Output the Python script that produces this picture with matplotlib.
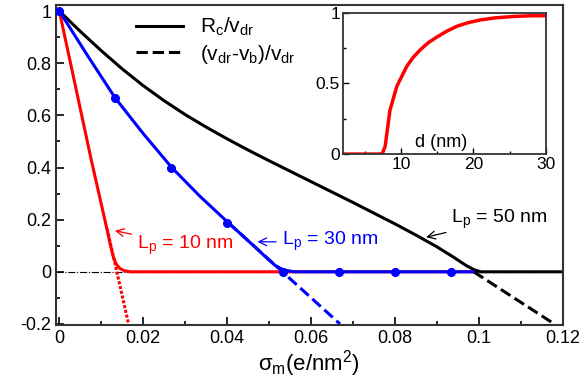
import numpy as np
import matplotlib
matplotlib.use('Agg')
import matplotlib.pyplot as plt

plt.rcParams['font.family'] = ['Liberation Sans', 'DejaVu Sans']
plt.rcParams['mathtext.fontset'] = 'custom'
plt.rcParams['mathtext.rm'] = 'Liberation Sans'
plt.rcParams['mathtext.it'] = 'Liberation Sans:italic'

# L_p = 50 nm (black)
sig50 = [0, 0.005, 0.01, 0.015, 0.02, 0.025, 0.03, 0.035, 0.04, 0.045, 0.05, 0.055,
         0.06, 0.065, 0.07, 0.075, 0.08, 0.085, 0.09, 0.094, 0.097, 0.099, 0.1005, 0.12]
rc50 = [1, 0.922, 0.848, 0.778, 0.714, 0.656, 0.603, 0.555, 0.51, 0.467, 0.426, 0.386,
        0.346, 0.306, 0.266, 0.225, 0.184, 0.141, 0.096, 0.056, 0.024, 0.007, 0, 0]
sig50_dash = [0.0988, 0.118]
vb50_dash = [0.0, -0.2]

# L_p = 30 nm (blue)
sig30 = [0, 0.0067, 0.0133, 0.02, 0.0268, 0.0335, 0.0403, 0.044, 0.047, 0.0495, 0.0515,
         0.0535, 0.056, 0.0986]
rc30 = [1, 0.83, 0.667, 0.53, 0.40, 0.29, 0.188, 0.134, 0.09, 0.052, 0.024,
        0.007, 0, 0]
sig30_pts = [0, 0.0133, 0.0267, 0.04, 0.0533, 0.0667, 0.08, 0.0933]
rc30_pts = [1, 0.667, 0.40, 0.188, 0.0, 0, 0, 0]
sig30_dash = [0.0403, 0.0669]
vb30_dash = [0.188, -0.2]

# L_p = 10 nm (red)
sig10 = [0, 0.0076, 0.0114, 0.0122, 0.0129, 0.0136, 0.0145, 0.0155, 0.017, 0.0986]
rc10 = [1, 0.43, 0.16, 0.1, 0.055, 0.028, 0.012, 0.004, 0, 0]
sig10_dot = [0.0114, 0.0165]
vb10_dot = [0.165, -0.2]

# inset
d_nm = [2, 7.15, 7.5, 7.84, 8.5, 9.45, 10.8, 11.7, 12.7, 13.8, 15, 16.3, 17.7,
        19.2, 20.9, 23, 25.5, 28, 30]
rc_d = [0, 0, 0.01, 0.054, 0.31, 0.48, 0.62, 0.685, 0.74, 0.79, 0.83, 0.87, 0.905,
        0.93, 0.95, 0.965, 0.975, 0.98, 0.98]

fig = plt.figure(figsize=(5.79, 3.92), dpi=100)
ax = fig.add_axes([0.0967, 0.171, 0.875, 0.816])

ax.axhline(0, color='k', lw=0.8, ls='-.', zorder=1)
ax.plot(sig10_dot, vb10_dot, color='red', lw=2.2, ls=(0, (1, 0.6)), zorder=3)
ax.plot(sig10, rc10, color='red', lw=2.2, zorder=3)
ax.plot(sig30_dash, vb30_dash, color='blue', lw=2.2, ls='--', zorder=4)
ax.plot(sig30, rc30, color='blue', lw=2.2, zorder=4)
ax.plot(sig30_pts, rc30_pts, 'o', color='blue', ms=5.5, zorder=5)
ax.plot(sig50, rc50, color='k', lw=2.2, zorder=2, label=r'R$_{\rm c}$/v$_{\rm dr}$')
ax.plot(sig50_dash, vb50_dash, color='k', lw=2.2, ls='--', zorder=2,
        label=r'(v$_{\rm dr}$-v$_{\rm b}$)/v$_{\rm dr}$')

ax.set_xlim(-0.0008, 0.12)
ax.set_ylim(-0.204, 1.023)
ax.set_xticks([0, 0.02, 0.04, 0.06, 0.08, 0.1, 0.12])
ax.set_xticklabels(['0', '0.02', '0.04', '0.06', '0.08', '0.1', '0.12'])
ax.set_yticks([-0.2, 0, 0.2, 0.4, 0.6, 0.8, 1])
ax.set_yticklabels(['-0.2', '0', '0.2', '0.4', '0.6', '0.8', '1'])
ax.set_xticks(np.arange(0, 0.121, 0.01), minor=True)
ax.set_yticks(np.arange(-0.2, 1.01, 0.1), minor=True)
ax.tick_params(which='both', direction='in', labelsize=13, width=1.2)
ax.tick_params(which='major', length=6)
ax.tick_params(which='minor', length=3)
for s in ax.spines.values():
    s.set_linewidth(1.5)
    s.set_color('#333333')
ax.set_xlabel('σ$_{\\rm m}$(e/nm$^{\\rm 2}$)', fontsize=16, labelpad=1)

ax.legend(loc='upper left', bbox_to_anchor=(0.12, 1.025), frameon=False,
          fontsize=15, handlelength=2.3, labelspacing=0.22, handletextpad=0.8)

ax.annotate(r'L$_{\rm p}$ = 10 nm', xy=(0.0126, 0.16), xytext=(0.0185, 0.1),
            color='red', fontsize=14, va='center',
            arrowprops=dict(arrowstyle='->', color='red', lw=0.9))
ax.annotate(r'L$_{\rm p}$ = 30 nm', xy=(0.0466, 0.115), xytext=(0.053, 0.115),
            color='blue', fontsize=14, va='center',
            arrowprops=dict(arrowstyle='->', color='blue', lw=0.9))
ax.annotate(r'L$_{\rm p}$ = 50 nm', xy=(0.0868, 0.13), xytext=(0.0935, 0.2),
            color='k', fontsize=14, va='center',
            arrowprops=dict(arrowstyle='->', color='k', lw=0.9))

ins = fig.add_axes([0.592, 0.607, 0.351, 0.36])
ins.plot(d_nm, rc_d, color='red', lw=2.5)
ins.set_xlim(2, 30)
ins.set_ylim(0, 1)
ins.set_xticks([10, 20, 30])
ins.set_xticks([5, 15, 25], minor=True)
ins.set_yticks([0, 0.5, 1])
ins.set_yticklabels(['0', '0.5', '1'])
ins.set_yticks([0.25, 0.75], minor=True)
ins.tick_params(which='both', direction='in', labelsize=12.5, width=1.0, pad=2)
ins.tick_params(which='major', length=4)
ins.tick_params(which='minor', length=2.5)
for s in ins.spines.values():
    s.set_linewidth(1.3)
    s.set_color('#333333')
ins.text(15.5, 0.02, 'd (nm)', fontsize=13, ha='center', va='bottom')

fig.savefig('out.png', dpi=100)
